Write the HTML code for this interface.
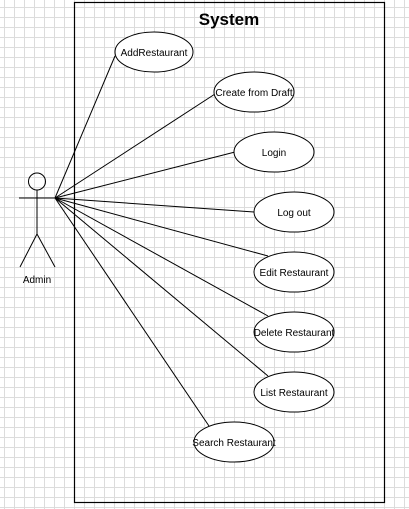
<!DOCTYPE html>
<html><head><style>
html,body{margin:0;padding:0;background:#fff;}
svg{display:block;}
text{font-family:"Liberation Sans",sans-serif;font-size:10px;fill:#000;}
</style></head><body>
<svg width="409" height="509" viewBox="0 0 409 509" xmlns="http://www.w3.org/2000/svg">
<defs>
<pattern id="g" x="4" y="7" width="10" height="10" patternUnits="userSpaceOnUse">
<path d="M0 0.5H10M0.5 0V10" stroke="#dcdcdc" stroke-width="1" fill="none"/>
</pattern>
</defs>
<rect width="409" height="509" fill="#fff"/>
<rect width="409" height="509" fill="url(#g)"/>
<rect x="74.5" y="2.5" width="310" height="500" fill="none" stroke="#000" stroke-width="1.2"/>
<text x="229" y="25" text-anchor="middle" style="font-size:17px;font-weight:bold">System</text>
<g stroke="#000" stroke-width="1" fill="none">
<circle cx="37" cy="181.5" r="8.5"/>
<line x1="37" y1="190" x2="37" y2="234"/>
<line x1="19" y1="198" x2="56" y2="198"/>
<line x1="37" y1="234" x2="20" y2="267"/>
<line x1="37" y1="234" x2="55" y2="267"/>
<line x1="55" y1="198" x2="115" y2="56"/>
<line x1="55" y1="198" x2="215" y2="94"/>
<line x1="55" y1="198" x2="235" y2="152"/>
<line x1="55" y1="198" x2="254" y2="212"/>
<line x1="55" y1="198" x2="268" y2="256"/>
<line x1="55" y1="198" x2="268" y2="316"/>
<line x1="55" y1="198" x2="268" y2="376"/>
<line x1="55" y1="198" x2="209" y2="426"/>
</g>
<g stroke="#000" stroke-width="1" fill="#fff">
<ellipse cx="154" cy="52" rx="39" ry="20"/>
<ellipse cx="254" cy="92" rx="40" ry="20"/>
<ellipse cx="274" cy="152" rx="40" ry="20"/>
<ellipse cx="294" cy="212" rx="40" ry="20"/>
<ellipse cx="294" cy="272" rx="40" ry="20"/>
<ellipse cx="294" cy="332" rx="40" ry="20"/>
<ellipse cx="294" cy="392" rx="40" ry="20"/>
<ellipse cx="234" cy="442" rx="40" ry="20"/>
</g>
<g text-anchor="middle">
<text x="37" y="283">Admin</text>
<text x="154" y="56">AddRestaurant</text>
<text x="254" y="96">Create from Draft</text>
<text x="274" y="156">Login</text>
<text x="294" y="216">Log out</text>
<text x="294" y="276">Edit Restaurant</text>
<text x="294" y="336">Delete Restaurant</text>
<text x="294" y="396">List Restaurant</text>
<text x="234" y="446">Search Restaurant</text>
</g>
</svg>
</body></html>
